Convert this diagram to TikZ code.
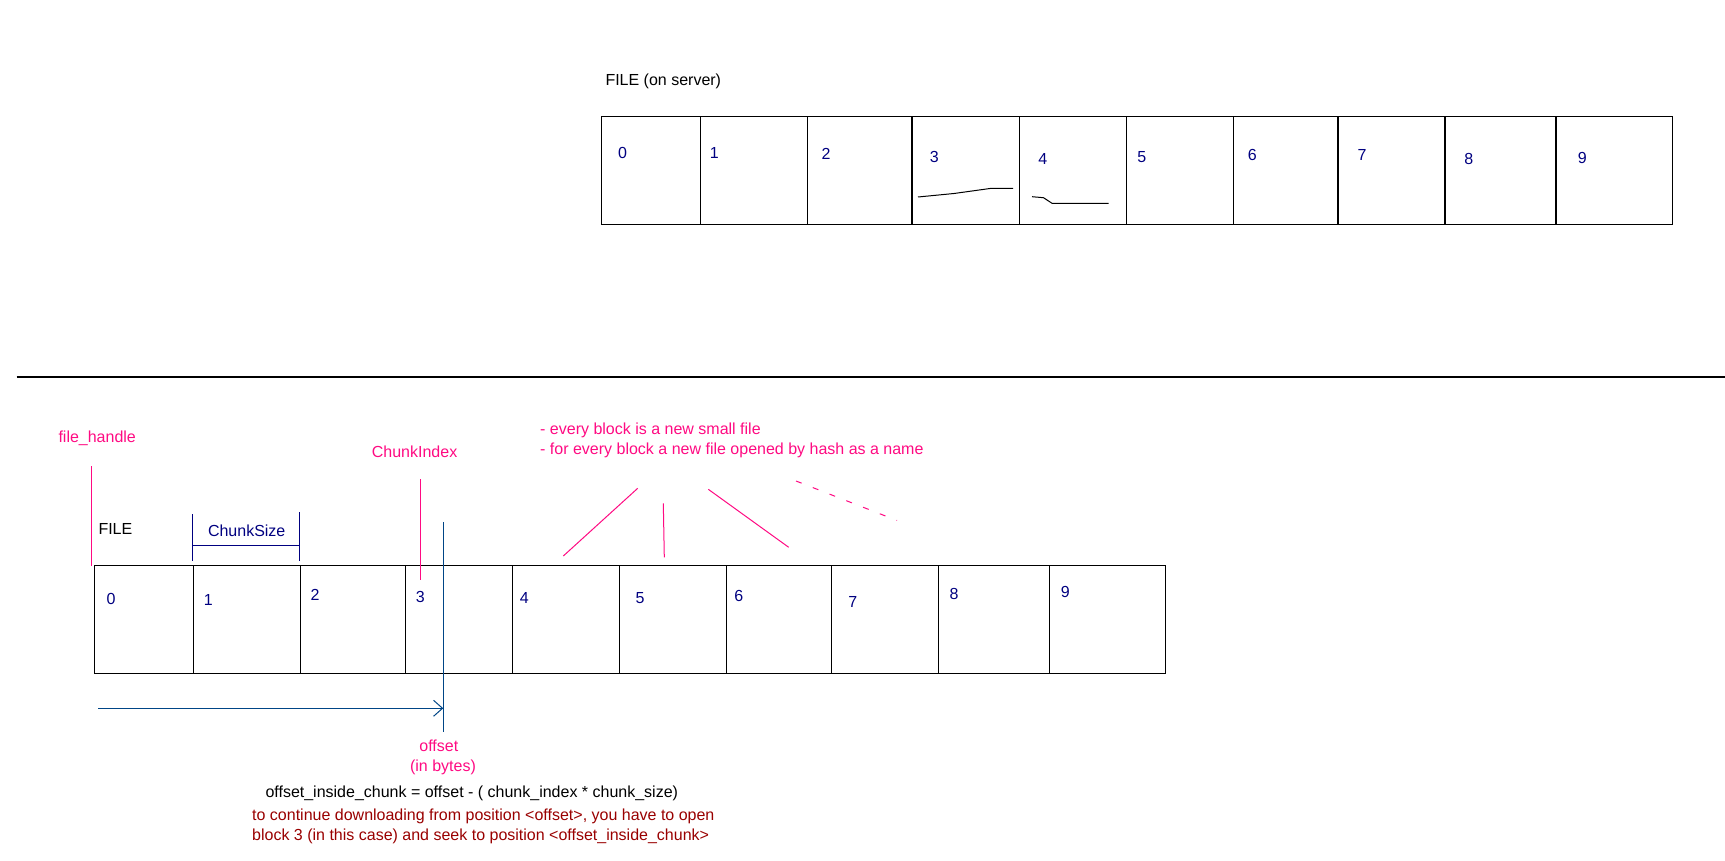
\documentclass[tikz,border=0pt]{standalone}
\usepackage{fontspec}
\setmainfont{Liberation Sans}
\usetikzlibrary{arrows.meta}
\definecolor{hotpink}{HTML}{FF0A82}
\definecolor{navyc}{HTML}{000080}
\definecolor{offblue}{HTML}{004586}
\definecolor{darkred}{HTML}{990000}

\begin{document}
\begin{tikzpicture}[x=1pt, y=-1pt, font=\fontsize{16}{19.2}\selectfont,
  box/.style={line width=1.2pt},
  num/.style={text=navyc, anchor=base, inner sep=0pt},
  txt/.style={anchor=base west, inner sep=0pt},
  pinkline/.style={hotpink, line width=1pt}]
\useasboundingbox (0,0) rectangle (1725,861);
% file on the server
\node[txt] (server) at (605.3,85.5) {FILE (on server)};
\foreach \xl/\xr/\nx/\ny [count=\i from 0] in {601.7/700.5/622.5/158.5, 700.5/807.4/714.4/158.5,
    807.4/912/826/160, 912/1019.5/934.4/162.5, 1019.5/1126.6/1042.7/165, 1126.6/1233.4/1141.8/162.5,
    1233.4/1338/1252.2/160.8, 1338/1445/1362/160.8, 1445/1556/1468.7/164.8, 1556/1672.5/1582.3/163.5}{
  \draw[box] (\xl,116.5) rectangle (\xr,224.3);
  \node[num] (top\i) at (\nx,\ny) {\i};
}
\draw[line width=1pt] (918,197) -- (954,193.5) -- (990,188.5) -- (1013,188.5);
\draw[line width=1pt] (1032,196.7) -- (1043.5,197.7) -- (1052,203.3) -- (1108.6,203.3);

\draw[line width=1.2pt] (16.7,377) -- (1725,377);

% local file
\foreach \xl/\xr/\nx/\ny [count=\i from 0] in {94.6/193.5/111/604, 193.5/300.3/208.3/605.7,
    300.3/405.5/315/600.7, 405.5/512.3/420.3/602.7, 512.3/619.3/524.3/603.4, 619.3/726.3/640/603.4,
    726.3/831.5/738.7/601.7, 831.5/938.3/852.7/607.4, 938.3/1049.3/954/599.7, 1049.3/1165.2/1065.3/597.4}{
  \draw[box] (\xl,565.3) rectangle (\xr,673.3);
  \node[num] (bot\i) at (\nx,\ny) {\i};
}
\node[txt] (file) at (98.3,534) {FILE};

\node[txt, text=hotpink] (fh) at (58.3,442.5) {file\_handle};
\coordinate (fhA) at (91.3,466);
\coordinate (fhB) at (91.3,565.7);
\draw[pinkline] (fhA) -- (fhB);

\coordinate (csA) at (192.3,514);
\coordinate (csB) at (192.3,560.7);
\coordinate (csC) at (299.3,512);
\coordinate (csD) at (299.3,560.7);
\draw[navyc, line width=1pt] (csA) -- (csB) (csC) -- (csD)
  (192.3,545.3) -- (299.3,545.3);
\node[num] (cs) at (246.7,536.7) {ChunkSize};

\node[txt, text=hotpink] (ci) at (371.7,457.5) {ChunkIndex};
\coordinate (ciA) at (420.3,479);
\coordinate (ciB) at (420.3,580);
\draw[pinkline] (ciA) -- (ciB);

% offset marker
\coordinate (offA) at (443.3,522);
\coordinate (offB) at (443.3,731.5);
\coordinate (arrS) at (98,708.3);
\draw[offblue, line width=1pt] (offA) -- (offB);
\draw[offblue, line width=1pt, -{Straight Barb[length=9pt,width=16pt]}] (arrS) -- (arrS -| offA);
\node[num, text=hotpink] (off) at (438.8,751.5) {offset};
\node[num, text=hotpink] (bytes) at (443,771) {(in bytes)};

% blocks as small files
\node[txt, text=hotpink] (note1) at (540,434) {- every block is a new small file};
\node[txt, text=hotpink] (note2) at (540,454) {- for every block a new file opened by hash as a name};
\coordinate (hA) at (563.3,556);
\coordinate (hB) at (637.7,488.3);
\coordinate (hC) at (663.3,503.3);
\coordinate (hD) at (664.3,557.3);
\coordinate (hE) at (708.3,489.3);
\coordinate (hF) at (788.7,547.3);
\coordinate (hG) at (796,481);
\coordinate (hH) at (897,520.5);
\draw[pinkline] (hA) -- (hB) (hC) -- (hD) (hE) -- (hF);
\draw[pinkline, dash pattern=on 6pt off 12pt] (hG) -- (hH);

\node[txt] (formula) at (265.3,797.5) {offset\_inside\_chunk = offset - ( chunk\_index * chunk\_size)};
\node[txt, text=darkred] (hint1) at (252,820.5) {to continue downloading from position <offset>, you have to open};
\node[txt, text=darkred] (hint2) at (252,840.5) {block 3 (in this case) and seek to position <offset\_inside\_chunk>};
\end{tikzpicture}
\end{document}
